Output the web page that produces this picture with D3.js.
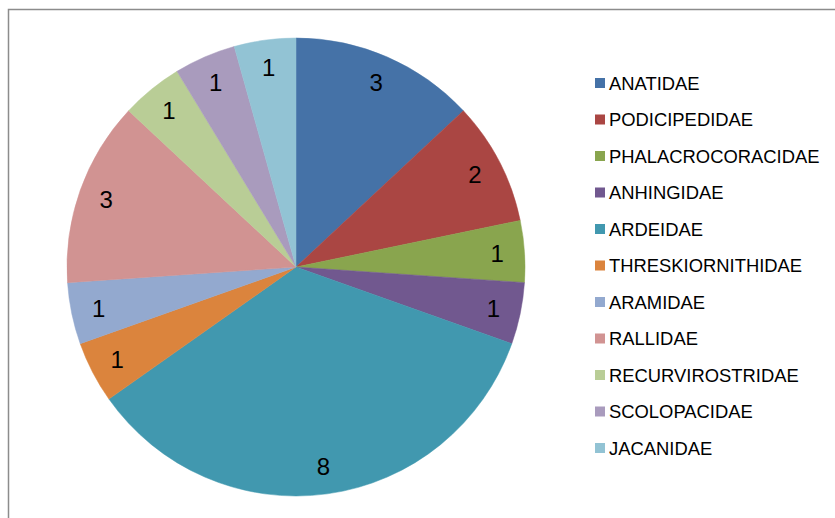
<!DOCTYPE html>
<html>
<head>
<meta charset="utf-8">
<script src="https://cdn.jsdelivr.net/npm/d3@7"></script>
<style>
  body { margin: 0; background: #fff; }
  text { font-family: "Liberation Sans", Arial, sans-serif; fill: #000; }
</style>
</head>
<body>
<script>
// families and counts, clockwise from 12 o'clock
let families = ["ANATIDAE", "PODICIPEDIDAE", "PHALACROCORACIDAE", "ANHINGIDAE", "ARDEIDAE",
    "THRESKIORNITHIDAE", "ARAMIDAE", "RALLIDAE", "RECURVIROSTRIDAE", "SCOLOPACIDAE", "JACANIDAE"];
let counts = [3, 2, 1, 1, 8, 1, 1, 3, 1, 1, 1];
let colors = ["#4572A7", "#AA4643", "#89A54E", "#71588F", "#4198AF", "#DB843D",
    "#93A9CF", "#D19392", "#B9CD96", "#A99BBD", "#92C3D4"];

let width = 835, height = 518;
let cx = 296, cy = 267, radius = 229;

let svg = d3.select("body")
    .append("svg")
    .attr("width", width)
    .attr("height", height);

// chart frame (right and bottom edges run off the page)
svg.append("rect")
    .attr("x", 8.5)
    .attr("y", 9.5)
    .attr("width", 840)
    .attr("height", 520)
    .attr("fill", "none")
    .attr("stroke", "#8c8c8c")
    .attr("stroke-width", 1.5);

let data = families.map(function (f, i) { return { name: f, value: counts[i] } });

let pie = d3.pie()
    .sort(null)
    .value(function (d) { return d.value });

let arc = d3.arc().innerRadius(0).outerRadius(radius);
let labelArc = d3.arc().innerRadius(radius * 0.88).outerRadius(radius * 0.88);

let color = d3.scaleOrdinal().domain(families).range(colors);

let g = svg.append("g")
    .attr("transform", "translate(" + cx + "," + cy + ")");

let slices = pie(data);

g.selectAll(".slice")
    .data(slices)
    .enter()
    .append("path")
    .attr("class", "slice")
    .attr("d", arc)
    .attr("fill", function (d) { return color(d.data.name) })
    .attr("stroke", function (d) { return color(d.data.name) })
    .attr("stroke-width", 0.5);

g.selectAll(".lbl")
    .data(slices)
    .enter()
    .append("text")
    .attr("class", "lbl")
    .attr("transform", function (d) { return "translate(" + labelArc.centroid(d) + ")" })
    .attr("text-anchor", "middle")
    .attr("dy", "0.36em")
    .style("font-size", "24px")
    .text(function (d) { return d.data.value });

// legend
let legendY = d3.scalePoint()
    .domain(families)
    .range([83, 448]);

let legend = svg.append("g");

let items = legend.selectAll(".item")
    .data(families)
    .enter()
    .append("g")
    .attr("class", "item")
    .attr("transform", function (d) { return "translate(595," + legendY(d) + ")" });

items.append("rect")
    .attr("x", 0)
    .attr("y", -5)
    .attr("width", 10)
    .attr("height", 10)
    .attr("fill", function (d) { return color(d) });

items.append("text")
    .attr("x", 14)
    .attr("dy", "0.36em")
    .style("font-size", "18.4px")
    .text(function (d) { return d });
</script>
</body>
</html>
